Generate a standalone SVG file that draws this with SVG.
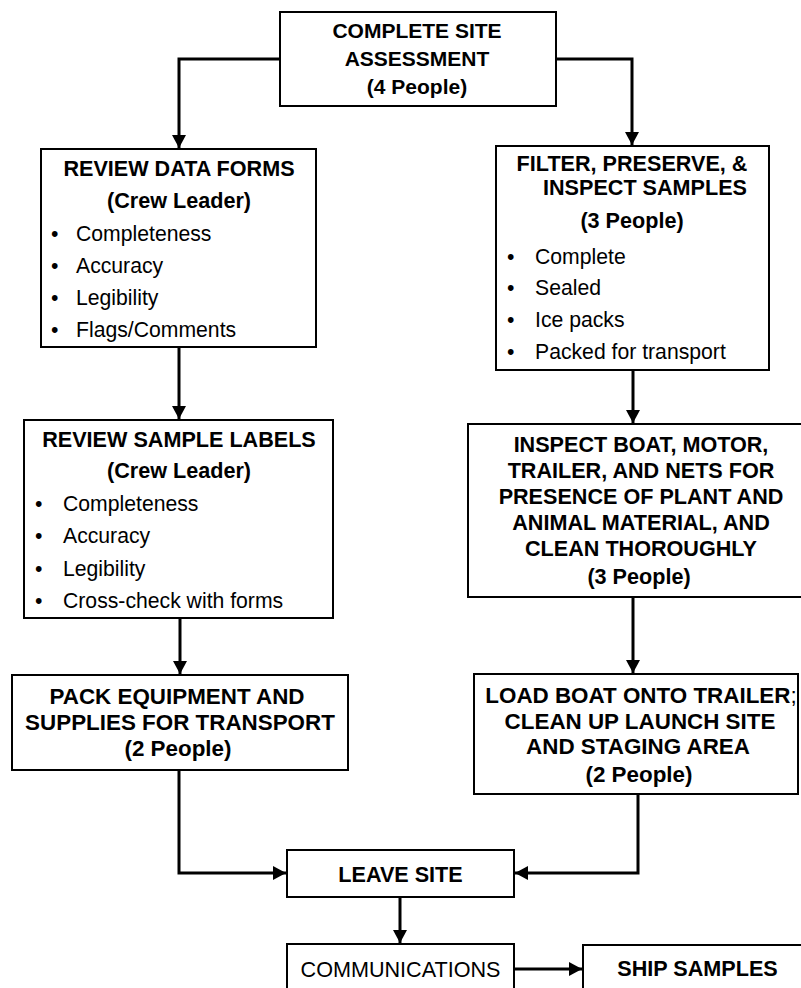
<svg xmlns="http://www.w3.org/2000/svg" width="801" height="988" viewBox="0 0 801 988">
<style>
  .box { fill: #fff; stroke: #000; stroke-width: 2; }
  .t { font-family: "Liberation Sans", Arial, sans-serif; font-size: 21.2px; fill: #000; }
  .b { font-weight: bold; font-size: 21.6px; }
  .c { text-anchor: middle; }
  .con { fill: none; stroke: #000; stroke-width: 3; }
</style>
<defs>
  <marker id="ah" markerUnits="userSpaceOnUse" markerWidth="14" markerHeight="14" refX="13" refY="7" orient="auto">
    <path d="M0,0 L13,7 L0,14 z" fill="#000"/>
  </marker>
</defs>
<rect width="801" height="988" fill="#fff"/>

<g id="connectors">
  <path class="con" d="M280,59 H179 V148" marker-end="url(#ah)"/>
  <path class="con" d="M556,59 H632 V145" marker-end="url(#ah)"/>
  <path class="con" d="M179,347 V419" marker-end="url(#ah)"/>
  <path class="con" d="M180,618 V674" marker-end="url(#ah)"/>
  <path class="con" d="M633,370 V423" marker-end="url(#ah)"/>
  <path class="con" d="M633,597 V673" marker-end="url(#ah)"/>
  <path class="con" d="M179,770 V873 H286" marker-end="url(#ah)"/>
  <path class="con" d="M638,794 V873 H515" marker-end="url(#ah)"/>
  <path class="con" d="M400,897 V943" marker-end="url(#ah)"/>
  <path class="con" d="M514,969 H582" marker-end="url(#ah)"/>
</g>

<g id="complete-site-assessment">
  <rect class="box" x="280" y="12" width="276" height="94"/>
  <text class="t b c" x="417" y="38" style="font-size:21px">COMPLETE SITE</text>
  <text class="t b c" x="417" y="66" style="font-size:21px">ASSESSMENT</text>
  <text class="t b c" x="417" y="94" style="font-size:21px">(4 People)</text>
</g>

<g id="review-data-forms">
  <rect class="box" x="41" y="149" width="275" height="198"/>
  <text class="t b c" x="179" y="175.5">REVIEW DATA FORMS</text>
  <text class="t b c" x="179" y="207.5">(Crew Leader)</text>
  <text class="t" x="51" y="240.5">•</text><text class="t" x="76" y="240.5">Completeness</text>
  <text class="t" x="51" y="272.5">•</text><text class="t" x="76" y="272.5">Accuracy</text>
  <text class="t" x="51" y="304.5">•</text><text class="t" x="76" y="304.5">Legibility</text>
  <text class="t" x="51" y="337">•</text><text class="t" x="76" y="337">Flags/Comments</text>
</g>

<g id="filter-preserve-inspect">
  <rect class="box" x="496" y="146" width="273" height="224"/>
  <text class="t b c" x="632" y="171">FILTER, PRESERVE, &amp;</text>
  <text class="t b" x="747" y="195" text-anchor="end">INSPECT SAMPLES</text>
  <text class="t b c" x="632" y="228">(3 People)</text>
  <text class="t" x="507" y="263.5">•</text><text class="t" x="535" y="263.5">Complete</text>
  <text class="t" x="507" y="295">•</text><text class="t" x="535" y="295">Sealed</text>
  <text class="t" x="507" y="327">•</text><text class="t" x="535" y="327">Ice packs</text>
  <text class="t" x="507" y="358.5">•</text><text class="t" x="535" y="358.5">Packed for transport</text>
</g>

<g id="review-sample-labels">
  <rect class="box" x="24" y="420" width="309" height="198"/>
  <text class="t b c" x="179" y="446.5">REVIEW SAMPLE LABELS</text>
  <text class="t b c" x="179" y="478">(Crew Leader)</text>
  <text class="t" x="35" y="511">•</text><text class="t" x="63" y="511">Completeness</text>
  <text class="t" x="35" y="543">•</text><text class="t" x="63" y="543">Accuracy</text>
  <text class="t" x="35" y="575.5">•</text><text class="t" x="63" y="575.5">Legibility</text>
  <text class="t" x="35" y="608">•</text><text class="t" x="63" y="608">Cross-check with forms</text>
</g>

<g id="inspect-boat">
  <rect class="box" x="468" y="424" width="344" height="173"/>
  <text class="t b c" x="641" y="451.5">INSPECT BOAT, MOTOR,</text>
  <text class="t b c" x="641" y="477.5">TRAILER, AND NETS FOR</text>
  <text class="t b c" x="641" y="504">PRESENCE OF PLANT AND</text>
  <text class="t b c" x="641" y="530">ANIMAL MATERIAL, AND</text>
  <text class="t b c" x="641" y="556">CLEAN THOROUGHLY</text>
  <text class="t b c" x="639" y="583.5">(3 People)</text>
</g>

<g id="pack-equipment">
  <rect class="box" x="12" y="675" width="336" height="95"/>
  <text class="t b c" x="177" y="703.5" style="font-size:22.4px">PACK EQUIPMENT AND</text>
  <text class="t b c" x="180" y="729.5" style="font-size:22.4px">SUPPLIES FOR TRANSPORT</text>
  <text class="t b c" x="178" y="755.5" style="font-size:22.4px">(2 People)</text>
</g>

<g id="load-boat">
  <rect class="box" x="474" y="674" width="324" height="120"/>
  <text class="t b c" x="641" y="702.5" style="font-size:22.4px">LOAD BOAT ONTO TRAILER<tspan style="font-weight:normal">;</tspan></text>
  <text class="t b c" x="640" y="729" style="font-size:22.4px">CLEAN UP LAUNCH SITE</text>
  <text class="t b c" x="638" y="754" style="font-size:22.4px">AND STAGING AREA</text>
  <text class="t b c" x="639" y="782" style="font-size:22.4px">(2 People)</text>
</g>

<g id="leave-site">
  <rect class="box" x="287" y="850" width="227" height="47"/>
  <text class="t b c" x="400.5" y="881.5">LEAVE SITE</text>
</g>

<g id="communications">
  <rect class="box" x="287" y="944" width="227" height="60"/>
  <text class="t c" x="400.5" y="976.5" style="font-size:21.6px">COMMUNICATIONS</text>
</g>

<g id="ship-samples">
  <rect class="box" x="583" y="945" width="229" height="60"/>
  <text class="t b c" x="697.5" y="976">SHIP SAMPLES</text>
</g>
</svg>
